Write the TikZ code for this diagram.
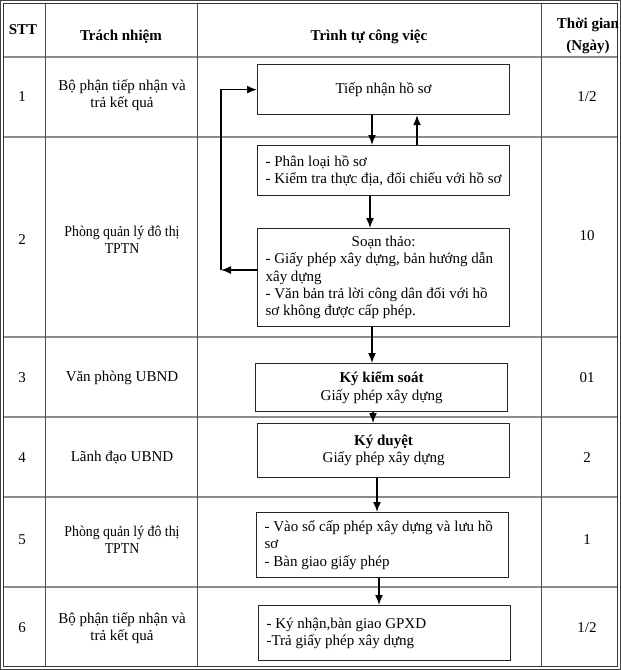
\documentclass[tikz,border=0pt]{standalone}
\usepackage{fontspec}
\usepackage{graphicx}
\setmainfont{Liberation Serif}
\usetikzlibrary{arrows.meta}
\begin{document}
\begin{tikzpicture}[x=1pt,y=-1pt,
  every node/.style={font=\fontsize{15}{17.3}\selectfont, inner sep=0pt},
  flowbox/.style={draw=black!85, line width=1.2pt, minimum width=252pt, anchor=north west,
                  inner xsep=8pt, text width=236pt},
  gridh/.style={draw=black!45, line width=1.3pt},
  gridv/.style={draw=black!70, line width=1pt},
  flow/.style={line width=1.5pt, -{Latex[length=10pt,width=8pt]}},
  cell/.style={align=flush center},
  head/.style={align=flush center, font=\fontsize{15}{22}\selectfont\bfseries},
]
\useasboundingbox (0,0) rectangle (621,670);
% outer double border
\draw[line width=1pt, black!75] (0.8,0.8) rectangle (620.2,669.2);
\draw[line width=1pt, black!80] (3.5,3.5) rectangle (617.3,666.8);
% horizontal grid lines
\foreach \yy in {57,137,337,417,497,587}
  \draw[gridh] (3.5,\yy) -- (617.3,\yy);
% vertical grid lines
\foreach \xx in {45,197,541}
  \draw[gridv] (\xx,3.5) -- (\xx,666.8);

% header
\node[head] (hstt) at (23,30) {STT};
\node[head] (hresp) at (121,37) {Trách nhiệm};
\node[head] (hflow) at (369,37) {Trình tự công việc};
\node[head] (htime) at (588,36) {Thời gian\\(Ngày)};

% numbers
\node (n1) at (22,97) {1};
\node (n2) at (22,240) {2};
\node (n3) at (22,378) {3};
\node (n4) at (22,458) {4};
\node (n5) at (22,540) {5};
\node (n6) at (22,628) {6};

% responsibility
\node[cell] (r1) at (122,95) {Bộ phận tiếp nhận và\\trả kết quả};
\node[cell] (r2) at (122,240) {\scalebox{0.92}[1]{Phòng quản lý đô thị}\\\scalebox{0.92}[1]{TPTN}};
\node[cell] (r3) at (122,378) {Văn phòng UBND};
\node[cell] (r4) at (122,458) {Lãnh đạo UBND};
\node[cell] (r5) at (122,540) {\scalebox{0.92}[1]{Phòng quản lý đô thị}\\\scalebox{0.92}[1]{TPTN}};
\node[cell] (r6) at (122,628) {Bộ phận tiếp nhận và\\trả kết quả};

% time
\node (t1) at (587,97) {1/2};
\node (t2) at (587,236) {10};
\node (t3) at (587,378) {01};
\node (t4) at (587,458) {2};
\node (t5) at (587,540) {1};
\node (t6) at (587,628) {1/2};

% flow boxes
\node[flowbox, align=flush center, minimum height=50pt] (B1) at (257,64) {Tiếp nhận hồ sơ};
\node[flowbox, align=flush left, minimum height=50pt] (B2) at (257,145)
  {- Phân loại hồ sơ\\- Kiểm tra thực địa, đối chiếu với hồ sơ};
\node[flowbox, align=flush left, minimum height=98pt] (B3) at (257,228)
  {\hspace*{\fill}Soạn thảo:\hspace*{\fill}\null\\- Giấy phép xây dựng, bản hướng dẫn\\xây dựng\\- Văn bản trả lời công dân đối với hồ\\sơ không được cấp phép.};
\node[flowbox, align=flush center, minimum height=48pt] (B4) at (255,363)
  {\textbf{Ký kiểm soát}\\Giấy phép xây dựng\par\vspace{4pt}};
\node[flowbox, align=flush center, minimum height=54pt] (B5) at (257,423)
  {\textbf{Ký duyệt}\\Giấy phép xây dựng\par\vspace{9pt}};
\node[flowbox, align=flush left, minimum height=65pt] (B6) at (256,512)
  {- Vào sổ cấp phép xây dựng và lưu hồ\\sơ\\- Bàn giao giấy phép\par\vspace{5pt}};
\node[flowbox, align=flush left, minimum height=55pt] (B7) at (258,605)
  {- Ký nhận,bàn giao GPXD\\-Trả giấy phép xây dựng\par\vspace{10pt}};

% connector guide coordinates
\coordinate (xa) at (372,0);
\coordinate (xb) at (417,0);
\coordinate (xc) at (370,0);
\coordinate (xd) at (373,0);
\coordinate (xe) at (377,0);
\coordinate (xf) at (379,0);
\coordinate (L) at (221,270);

% connectors
\draw[flow] (B1.south -| xa) -- (B2.north -| xa);
\draw[flow] (B2.north -| xb) -- (B1.south -| xb);
\draw[flow] (B2.south -| xc) -- (B3.north -| xc);
\draw[flow] (B3.west |- L) -- (L);
\draw[flow] (L) |- (B1.west);
\draw[flow] (B3.south -| xa) -- (B4.north -| xa);
\draw[flow] (B4.south -| xd) -- (B5.north -| xd);
\draw[flow] (B5.south -| xe) -- (B6.north -| xe);
\draw[flow] (B6.south -| xf) -- (B7.north -| xf);
\end{tikzpicture}
\end{document}
